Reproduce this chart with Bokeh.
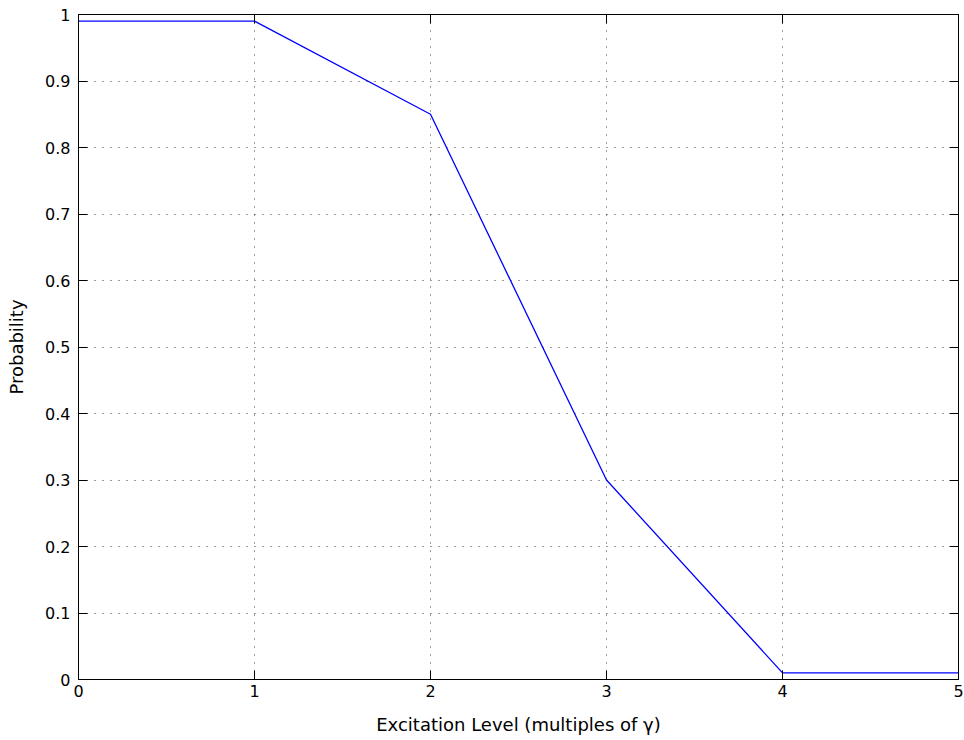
from bokeh.plotting import figure
from bokeh.models import LinearAxis, FixedTicker, CustomJSTickFormatter, Range1d
from bokeh.embed import file_html
from bokeh.resources import INLINE

# Excitation level (multiples of gamma) and the probability at each level
x_levels = [0, 1, 2, 3, 4, 5]
probabilities = [0.99, 0.99, 0.85, 0.30, 0.01, 0.01]

x_ticks = [0, 1, 2, 3, 4, 5]
y_ticks = [0, 0.1, 0.2, 0.3, 0.4, 0.5, 0.6, 0.7, 0.8, 0.9, 1]

FONT = "DejaVu Sans"
TICK_SIZE = "16px"
LABEL_SIZE = "18px"

p = figure(
    width=964, height=740,
    x_range=Range1d(0, 5), y_range=Range1d(0, 1),
    output_backend="svg", toolbar_location=None,
    x_axis_label="Excitation Level (multiples of \u03b3)",
    y_axis_label="Probability",
)
p.min_border_left = 78
p.min_border_right = 6
p.min_border_top = 14
p.min_border_bottom = 61
p.background_fill_color = "white"
p.border_fill_color = "white"
p.outline_line_color = "black"
p.outline_line_width = 1

fmt = CustomJSTickFormatter(code="return String(Math.round(tick * 10) / 10);")

for ax in (p.xaxis[0], p.yaxis[0]):
    ax.major_tick_in = 9
    ax.major_tick_out = 0
    ax.minor_tick_in = 0
    ax.minor_tick_out = 0
    ax.axis_line_color = "black"
    ax.major_tick_line_color = "black"
    ax.major_label_text_font = FONT
    ax.major_label_text_font_size = TICK_SIZE
    ax.major_label_text_color = "black"
    ax.axis_label_text_font = FONT
    ax.axis_label_text_font_size = LABEL_SIZE
    ax.axis_label_text_font_style = "normal"
    ax.axis_label_text_color = "black"
    ax.formatter = fmt

p.xaxis[0].ticker = FixedTicker(ticks=x_ticks)
p.yaxis[0].ticker = FixedTicker(ticks=y_ticks)
p.xaxis[0].major_label_standoff = 5
p.xaxis[0].axis_label_standoff = 14
p.yaxis[0].major_label_standoff = 8
p.yaxis[0].axis_label_standoff = 15

# Mirrored tick marks on the top and right edges of the box (no labels)
blank = CustomJSTickFormatter(code="return '';")
for side, ticks in (("above", x_ticks), ("right", y_ticks)):
    ax = LinearAxis(ticker=FixedTicker(ticks=ticks), formatter=blank)
    ax.major_tick_in = 9
    ax.major_tick_out = 0
    ax.minor_tick_in = 0
    ax.minor_tick_out = 0
    ax.major_label_text_color = None
    ax.major_label_text_font_size = "1px"
    ax.major_label_standoff = 0
    ax.axis_line_color = "black"
    ax.major_tick_line_color = "black"
    p.add_layout(ax, side)

# Dotted grid
for g in (p.xgrid[0], p.ygrid[0]):
    g.grid_line_color = "#222222"
    g.grid_line_dash = "1 7"
    g.grid_line_width = 1
    g.grid_line_alpha = 0.9
p.xgrid[0].ticker = FixedTicker(ticks=x_ticks)
p.ygrid[0].ticker = FixedTicker(ticks=y_ticks)

p.line(x_levels, probabilities, line_color="#0000ff", line_width=1.3)

open("out.html", "w").write(file_html(p, INLINE))
